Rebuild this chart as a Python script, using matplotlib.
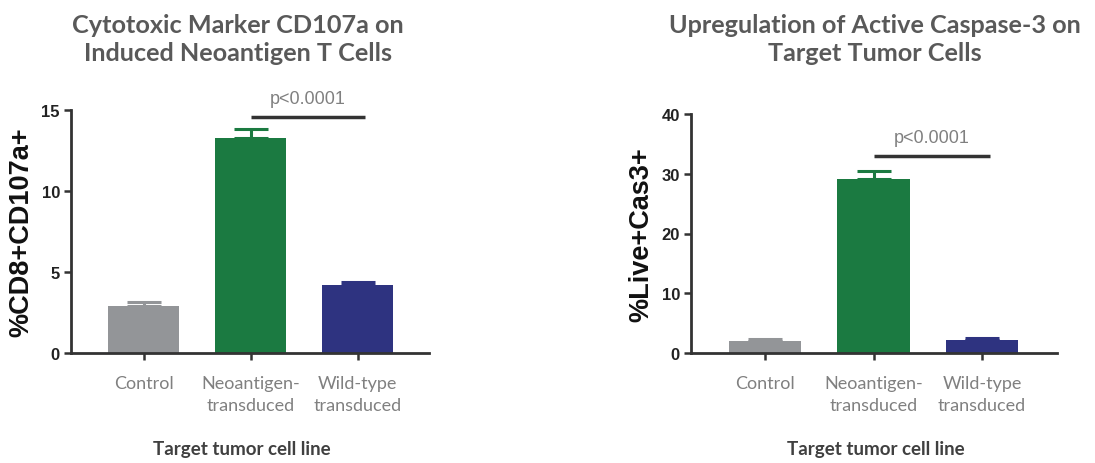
import matplotlib
matplotlib.use('Agg')
import matplotlib.pyplot as plt
import numpy as np

categories = ['Control', 'Neoantigen-\ntransduced', 'Wild-type\ntransduced']
colors = ['#939598', '#1b7a41', '#2e3380']

cd107a_mean = [2.9, 13.3, 4.2]
cd107a_err = [0.25, 0.5, 0.2]

cas3_mean = [2.0, 29.2, 2.1]
cas3_err = [0.3, 1.2, 0.35]

W, H = 1095, 464


def px_axes(fig, x0, x1, ytop, ybot):
    return fig.add_axes([x0 / W, 1 - ybot / H, (x1 - x0) / W, (ybot - ytop) / H])


def draw_panel(ax, means, errs, ymax, yticks, ylabel, p_y, xlim):
    x = np.arange(len(categories))
    ax.bar(x, means, width=0.665, color=colors, zorder=2)
    for xi, m, e, c in zip(x, means, errs, colors):
        ax.errorbar(xi, m, yerr=[[0], [e]], color=c, capsize=12.5, capthick=2.2,
                    elinewidth=2.2, zorder=3)
    ax.set_ylim(0, ymax)
    ax.set_xlim(*xlim)
    ax.set_yticks(yticks)
    ax.set_xticks(x)
    ax.set_xticklabels(categories, fontsize=13, color='#808080', family='Lato',
                       linespacing=1.5)
    for lab in ax.get_yticklabels():
        lab.set_fontweight('bold')
        lab.set_fontsize(12)
        lab.set_family('Liberation Sans')
        lab.set_color('#222222')
    ax.spines['top'].set_visible(False)
    ax.spines['right'].set_visible(False)
    for s in ('left', 'bottom'):
        ax.spines[s].set_linewidth(2)
        ax.spines[s].set_color('#333333')
    ax.tick_params(axis='both', width=1.8, length=5, direction='out', color='#333333')
    ax.tick_params(axis='x', pad=10.5)
    ax.tick_params(axis='y', pad=3)
    ax.set_ylabel(ylabel, fontsize=19.5, fontweight='bold', family='Liberation Sans',
                  labelpad=5, color='#111111')
    ax.plot([1, 2.07], [p_y, p_y], color='#333333', lw=2.5, clip_on=False,
            solid_capstyle='butt')
    ax.annotate('p<0.0001', (1.535, p_y), xytext=(0, 7), textcoords='offset points',
                ha='center', va='bottom', fontsize=13, color='#808080',
                family='Liberation Sans', annotation_clip=False)


fig = plt.figure(figsize=(W / 100, H / 100), dpi=100)

ax1 = px_axes(fig, 71, 429, 111, 354)
draw_panel(ax1, cd107a_mean, cd107a_err, 15, [0, 5, 10, 15], '%CD8+CD107a+',
           14.57, (-0.678, 2.668))

ax2 = px_axes(fig, 691, 1057, 115, 354)
draw_panel(ax2, cas3_mean, cas3_err, 40, [0, 10, 20, 30, 40], '%Live+Cas3+',
           32.97, (-0.682, 2.69))

title_kw = dict(ha='center', va='center', fontsize=18.2, fontweight='bold',
                family='Lato', color='#595959', linespacing=1.22)
fig.text(238 / W, 1 - 39.5 / H, 'Cytotoxic Marker CD107a on\nInduced Neoantigen T Cells',
         **title_kw)
fig.text(875 / W, 1 - 39.5 / H, 'Upregulation of Active Caspase-3 on\nTarget Tumor Cells',
         **title_kw)

xlab_kw = dict(ha='center', va='center', fontsize=13.5, fontweight='bold',
               family='Lato', color='#404040')
fig.text(242 / W, 1 - 450 / H, 'Target tumor cell line', **xlab_kw)
fig.text(876 / W, 1 - 450 / H, 'Target tumor cell line', **xlab_kw)

fig.savefig('out.png', dpi=100)
